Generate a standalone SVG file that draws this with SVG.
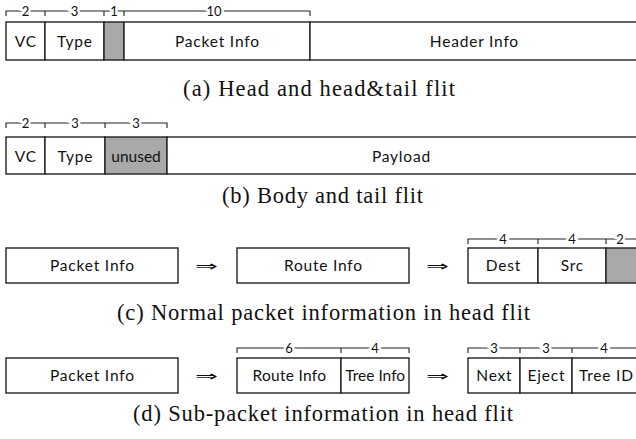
<svg xmlns="http://www.w3.org/2000/svg" width="636" height="439" viewBox="0 0 636 439">
<style>
.box{fill:#fff;stroke:#222;stroke-width:1.4}
.gray{fill:#a9a9a9;stroke:#222;stroke-width:1.4}
.br{fill:none;stroke:#222;stroke-width:1.1}
.t{font-family:Lato,"Liberation Sans",sans-serif;font-size:15.5px;letter-spacing:0.8px;fill:#111;text-anchor:middle}
.n{font-family:Lato,"Liberation Sans",sans-serif;font-size:13px;fill:#111;text-anchor:middle;stroke:#fff;stroke-width:5;paint-order:stroke}
.cap{font-family:"Liberation Serif",serif;font-size:22.5px;fill:#111;text-anchor:middle}
.arr{font-family:"DejaVu Sans",sans-serif;font-size:14px;fill:#111;text-anchor:middle}
</style>
<rect width="636" height="439" fill="#fff"/>

<!-- (a) -->
<g id="a-bracket">
<path class="br" d="M6,16V11H310V16M45,11V16M104,11V16M124,11V16"/>
<text class="n" x="25.5" y="15.5">2</text>
<text class="n" x="74.5" y="15.5">3</text>
<text class="n" x="114" y="15.5">1</text>
<text class="n" x="214" y="15.5">10</text>
</g>
<g id="a-vc"><rect class="box" x="6" y="22" width="39" height="38"/><text class="t" x="25.9" y="47">VC</text></g>
<g id="a-type"><rect class="box" x="45" y="22" width="59" height="38"/><text class="t" x="74.9" y="47">Type</text></g>
<g id="a-bit"><rect class="gray" x="104" y="22" width="20" height="38"/></g>
<g id="a-packet"><rect class="box" x="124" y="22" width="186" height="38"/><text class="t" x="217.4" y="47">Packet Info</text></g>
<g id="a-header"><rect class="box" x="310" y="22" width="340" height="38"/><text class="t" x="474.4" y="47">Header Info</text></g>
<text class="cap" x="319" y="96" textLength="272" lengthAdjust="spacing">(a) Head and head&amp;tail flit</text>

<!-- (b) -->
<g id="b-bracket">
<path class="br" d="M6,128V123H167V128M45,123V128M105,123V128"/>
<text class="n" x="25.5" y="127.5">2</text>
<text class="n" x="75" y="127.5">3</text>
<text class="n" x="136" y="127.5">3</text>
</g>
<g id="b-vc"><rect class="box" x="6" y="137" width="39" height="37"/><text class="t" x="25.9" y="162">VC</text></g>
<g id="b-type"><rect class="box" x="45" y="137" width="60" height="37"/><text class="t" x="75.4" y="162">Type</text></g>
<g id="b-unused"><rect class="gray" x="105" y="137" width="62" height="37"/><text class="t" x="136" y="162" style="letter-spacing:0">unused</text></g>
<g id="b-payload"><rect class="box" x="167" y="137" width="480" height="37"/><text class="t" x="401.4" y="162">Payload</text></g>
<text class="cap" x="322.5" y="203" textLength="201" lengthAdjust="spacing">(b) Body and tail flit</text>

<!-- (c) -->
<g id="c-packet"><rect class="box" x="6" y="248" width="172" height="35"/><text class="t" x="92.4" y="271">Packet Info</text></g>
<g id="c-route"><rect class="box" x="237" y="248" width="172" height="35"/><text class="t" x="323.4" y="271">Route Info</text></g>
<g id="c-bracket">
<path class="br" d="M468,244V239H645M538,239V244M606,239V244"/>
<text class="n" x="503" y="243.5">4</text>
<text class="n" x="572" y="243.5">4</text>
<text class="n" x="620" y="243.5">2</text>
</g>
<g id="c-dest"><rect class="box" x="468" y="248" width="70" height="35"/><text class="t" x="503.4" y="271">Dest</text></g>
<g id="c-src"><rect class="box" x="538" y="248" width="68" height="35"/><text class="t" x="572.4" y="271">Src</text></g>
<g id="c-bits"><rect class="gray" x="606" y="248" width="45" height="35"/></g>
<g id="c-arrows">
<text class="arr" x="206.5" y="270.5" textLength="23" lengthAdjust="spacingAndGlyphs">⇒</text>
<text class="arr" x="437.5" y="270.5" textLength="23" lengthAdjust="spacingAndGlyphs">⇒</text>
</g>
<text class="cap" x="323.5" y="320" textLength="413" lengthAdjust="spacing">(c) Normal packet information in head flit</text>

<!-- (d) -->
<g id="d-packet"><rect class="box" x="6" y="358" width="172" height="35"/><text class="t" x="92.4" y="381">Packet Info</text></g>
<g id="d-bracket1">
<path class="br" d="M237,353V348H409V353M341,348V353"/>
<text class="n" x="289" y="352.5">6</text>
<text class="n" x="375" y="352.5">4</text>
</g>
<g id="d-route"><rect class="box" x="237" y="358" width="104" height="35"/><text class="t" x="289.4" y="381" style="letter-spacing:0.3px">Route Info</text></g>
<g id="d-tree"><rect class="box" x="341" y="358" width="68" height="35"/><text class="t" x="375.2" y="381" style="letter-spacing:0">Tree Info</text></g>
<g id="d-bracket2">
<path class="br" d="M468,353V348H645M520,348V353M572,348V353"/>
<text class="n" x="494" y="352.5">3</text>
<text class="n" x="546" y="352.5">3</text>
<text class="n" x="604" y="352.5">4</text>
</g>
<g id="d-next"><rect class="box" x="468" y="358" width="52" height="35"/><text class="t" x="494.4" y="381">Next</text></g>
<g id="d-eject"><rect class="box" x="520" y="358" width="52" height="35"/><text class="t" x="546.4" y="381">Eject</text></g>
<g id="d-treeid"><rect class="box" x="572" y="358" width="80" height="35"/><text class="t" x="606.4" y="381">Tree ID</text></g>
<g id="d-arrows">
<text class="arr" x="206.5" y="380.5" textLength="23" lengthAdjust="spacingAndGlyphs">⇒</text>
<text class="arr" x="437.5" y="380.5" textLength="23" lengthAdjust="spacingAndGlyphs">⇒</text>
</g>
<text class="cap" x="323" y="421" textLength="380" lengthAdjust="spacing">(d) Sub-packet information in head flit</text>
</svg>
